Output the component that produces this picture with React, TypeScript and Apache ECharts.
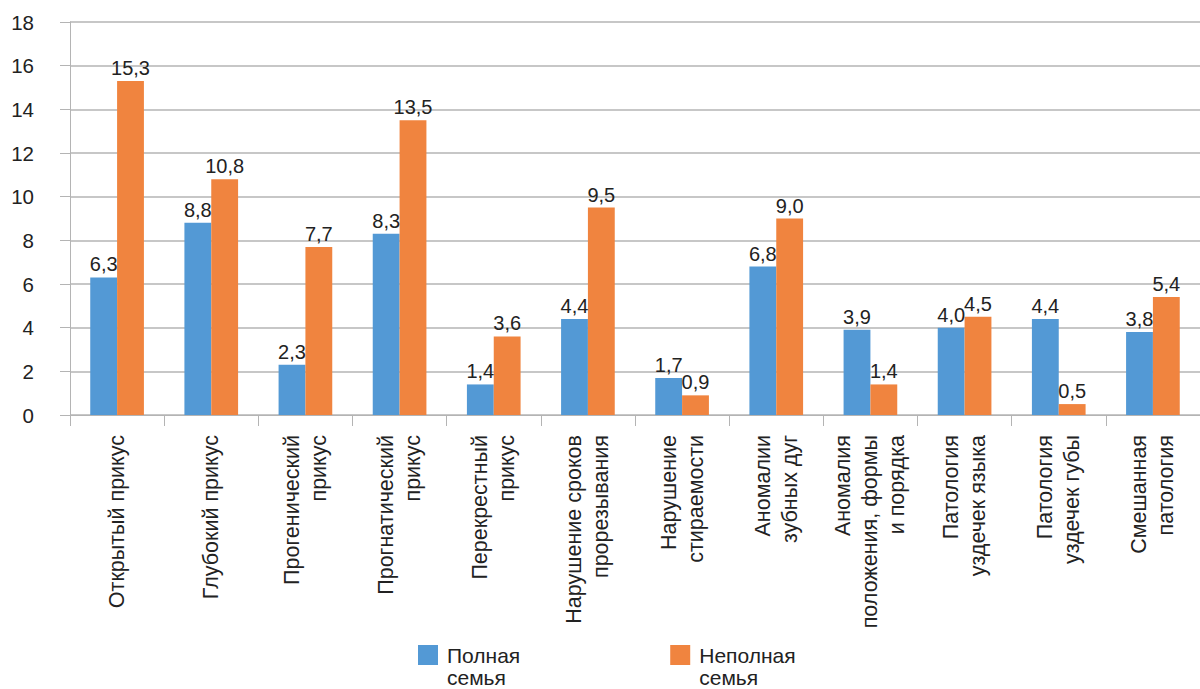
import React, { useEffect, useRef } from "react";
import * as echarts from "echarts";

const categories = [
  "Открытый прикус",
  "Глубокий прикус",
  "Прогенический\nприкус",
  "Прогнатический\nприкус",
  "Перекрестный\nприкус",
  "Нарушение сроков\nпрорезывания",
  "Нарушение\nстираемости",
  "Аномалии\nзубных дуг",
  "Аномалия\nположения, формы\nи порядка",
  "Патология\nуздечек языка",
  "Патология\nуздечек губы",
  "Смешанная\nпатология",
];

const fullFamily = [6.3, 8.8, 2.3, 8.3, 1.4, 4.4, 1.7, 6.8, 3.9, 4.0, 4.4, 3.8];
const incompleteFamily = [15.3, 10.8, 7.7, 13.5, 3.6, 9.5, 0.9, 9.0, 1.4, 4.5, 0.5, 5.4];

const seriesNames = ["Полная\nсемья", "Неполная\nсемья"];
const yTicks = { min: 0, max: 18, interval: 2 };

const FONT = "'Liberation Sans', Arial, sans-serif";
const BLUE = "#5399D5";
const ORANGE = "#F0843F";
const GRID = "#B4B4B4";
const TEXT = "#222";

export default function App() {
  const ref = useRef<HTMLDivElement>(null);

  useEffect(() => {
    if (!ref.current) return;
    const chart = echarts.init(ref.current, undefined, { renderer: "svg" });
    const fmt = (p: any) => Number(p.value).toFixed(1).replace(".", ",");
    const labelStyle = {
      show: true,
      position: "top" as const,
      distance: 3,
      formatter: fmt,
      fontFamily: FONT,
      fontSize: 20,
      color: TEXT,
    };
    chart.setOption({
      animation: false,
      backgroundColor: "#fff",
      grid: { left: 70, top: 22, width: 1137, height: 393, containLabel: false },
      legend: {
        left: 418,
        top: 622,
        padding: 0,
        itemWidth: 20,
        itemHeight: 20,
        itemGap: 150,
        icon: "rect",
        formatter: (name: string) => "\n" + name,
        textStyle: {
          fontFamily: FONT,
          fontSize: 21,
          color: TEXT,
          lineHeight: 22,
          padding: [0, 0, 0, 4],
        },
        data: seriesNames,
      },
      xAxis: {
        type: "category",
        data: categories,
        axisLine: { lineStyle: { color: GRID, width: 1 } },
        axisTick: { show: true, length: 11, lineStyle: { color: GRID } },
        axisLabel: {
          rotate: 90,
          margin: 20,
          interval: 0,
          fontFamily: FONT,
          fontSize: 21.5,
          lineHeight: 27,
          color: TEXT,
          padding: [0, 0, 14, 0],
        },
      },
      yAxis: {
        type: "value",
        min: yTicks.min,
        max: yTicks.max,
        interval: yTicks.interval,
        axisLine: { show: true, lineStyle: { color: GRID, width: 1 } },
        axisTick: { show: true, length: 10, lineStyle: { color: GRID } },
        splitLine: { show: true, lineStyle: { color: GRID, width: 1.5 } },
        axisLabel: {
          margin: 36,
          fontFamily: FONT,
          fontSize: 20.5,
          color: TEXT,
        },
      },
      series: [
        {
          name: seriesNames[0],
          type: "bar",
          data: fullFamily,
          itemStyle: { color: BLUE },
          barGap: "0%",
          barCategoryGap: "43%",
          label: labelStyle,
        },
        {
          name: seriesNames[1],
          type: "bar",
          data: incompleteFamily,
          itemStyle: { color: ORANGE },
          barGap: "0%",
          barCategoryGap: "43%",
          label: labelStyle,
        },
      ],
    });
    return () => chart.dispose();
  }, []);

  return (
    <div
      ref={ref}
      style={{ position: "fixed", left: 0, top: 0, width: 1200, height: 689, background: "#fff" }}
    />
  );
}
